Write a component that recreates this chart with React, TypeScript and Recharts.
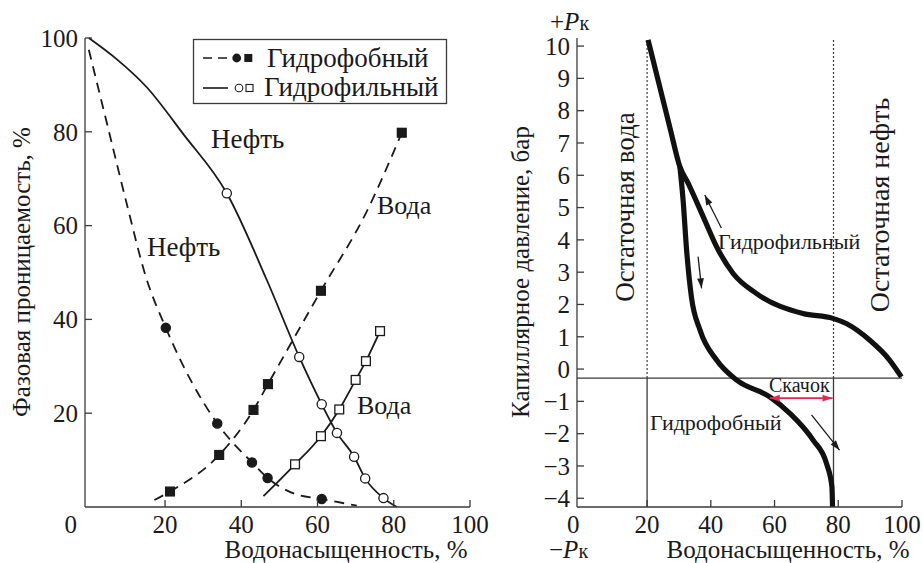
import { ComposedChart, Line, XAxis, YAxis, ReferenceLine } from "recharts";

const FONT = "'Liberation Serif', 'DejaVu Serif', serif";
const INK = "#1a1a1a";
const AXIS = "#3a3a3a";
const RED = "#e6264e";

// ---- left panel: phase permeability (%) vs water saturation (%)
// hydrophobic rock, oil (dashed line, filled circles)
const oilPhobX = [0, 5, 10, 15, 20.2, 33.7, 42.8, 46.9, 54, 61.1, 70.3];
const oilPhobY = [97.5, 81, 64.5, 49, 38.2, 17.8, 9.5, 6.2, 2.8, 1.7, 0.3];
const oilPhobMarkX = [20.2, 33.7, 42.8, 46.9, 61.1];
const oilPhobMarkY = [38.2, 17.8, 9.5, 6.2, 1.7];

// hydrophobic rock, water (dashed line, filled squares)
const watPhobX = [17.2, 21.3, 34.2, 43.2, 47.0, 60.9, 72.9, 82.1];
const watPhobY = [1.5, 3.3, 11.1, 20.7, 26.2, 46.1, 63, 79.8];
const watPhobMarkX = [21.3, 34.2, 43.2, 47.0, 60.9, 82.1];
const watPhobMarkY = [3.3, 11.1, 20.7, 26.2, 46.1, 79.8];

// hydrophilic rock, oil (solid line, hollow circles)
const oilPhilX = [0, 7.3, 15.2, 24.8, 36.2, 46.7, 55.2, 61.1, 65.1, 69.6, 72.5, 77.3, 80.8];
const oilPhilY = [100, 95.5, 89.5, 79.5, 66.9, 48.4, 32.0, 21.9, 15.8, 10.7, 6.1, 1.9, 0];
const oilPhilMarkX = [36.2, 55.2, 61.1, 65.1, 69.6, 72.5, 77.3];
const oilPhilMarkY = [66.9, 32.0, 21.9, 15.8, 10.7, 6.1, 1.9];

// hydrophilic rock, water (solid line, hollow squares)
const watPhilX = [45.8, 54.1, 60.9, 65.7, 70.0, 72.7, 76.4];
const watPhilY = [2.3, 9.1, 15.1, 20.8, 27.1, 31.1, 37.5];
const watPhilMarkX = [54.1, 60.9, 65.7, 70.0, 72.7, 76.4];
const watPhilMarkY = [9.1, 15.1, 20.8, 27.1, 31.1, 37.5];

const leftXTicks = [0, 20, 40, 60, 80, 100];
const leftYTicks = [20, 40, 60, 80, 100];

// ---- right panel: capillary pressure (bar) vs water saturation (%)
const philCapX = [20.3, 27.1, 30.3, 32.9, 37.6, 41.8, 47.0, 54.3, 68.9, 78.3, 82.5, 89.8, 96.1, 99.8];
const philCapY = [10.19, 7.5, 6.26, 5.75, 4.72, 3.79, 2.96, 2.34, 1.72, 1.57, 1.41, 0.9, 0.28, -0.24];
const phobCapX = [30.3, 31.3, 32.4, 33.9, 36.6, 41.8, 48.1, 58.5, 64.8, 72.1, 76.3, 78.0, 78.2];
const phobCapY = [6.26, 5.23, 3.68, 2.24, 1.21, 0.28, -0.34, -0.86, -1.37, -2.2, -2.92, -3.64, -4.27];

const rightXTicks = [0, 20, 40, 60, 80, 100];
const rightYTicks = [-4, -3, -2, -1, 0, 1, 2, 3, 4, 5, 6, 7, 8, 9, 10];
const baseLevel = -0.28;
const residualWater = 20;
const residualOil = 78.5;
const yMin = -4.27;
const yMax = 10.25;

const pts = (xs: number[], ys: number[]) => xs.map((x, i) => ({ x, y: ys[i] }));

function XTick({ x, y, payload, zeroDx }: any) {
  const v = payload.value as number;
  const axisY = y - 10;
  return (
    <g>
      {v !== 0 && (
        <line x1={x} x2={x} y1={axisY} y2={axisY - 7} stroke={AXIS} strokeWidth={1.3} />
      )}
      <text
        x={v === 0 ? x + zeroDx : x}
        y={axisY + 26}
        textAnchor="middle"
        style={{ fontFamily: FONT, fontSize: 25 }}
        fill={INK}
      >
        {v}
      </text>
    </g>
  );
}

function YTick({ x, y, payload }: any) {
  const v = payload.value as number;
  const axisX = x + 10;
  return (
    <g>
      <line x1={axisX} x2={axisX + 7} y1={y} y2={y} stroke={AXIS} strokeWidth={1.3} />
      <text
        x={axisX - 7}
        y={y}
        dy="0.35em"
        textAnchor="end"
        style={{ fontFamily: FONT, fontSize: 25 }}
        fill={INK}
      >
        {v < 0 ? `\u2212${-v}` : v}
      </text>
    </g>
  );
}

const markDot = (kind: "circle" | "square", filled: boolean) => (p: any) => {
  const { cx, cy, index } = p;
  if (cx == null || cy == null) return <g key={index} />;
  const fill = filled ? INK : "#fff";
  if (kind === "circle") {
    return (
      <circle key={index} cx={cx} cy={cy} r={4.6} fill={fill} stroke={INK} strokeWidth={1.3} />
    );
  }
  return (
    <rect
      key={index}
      x={cx - 4.4}
      y={cy - 4.4}
      width={8.8}
      height={8.8}
      fill={fill}
      stroke={INK}
      strokeWidth={1.3}
    />
  );
};

function ArrowShape({ x1, y1, x2, y2, stroke, both, width }: any) {
  const ang = Math.atan2(y2 - y1, x2 - x1);
  const len = 10;
  const hw = 3.4;
  const head = (tx: number, ty: number, a: number) => {
    const bx = tx - len * Math.cos(a);
    const by = ty - len * Math.sin(a);
    const nx = -Math.sin(a) * hw;
    const ny = Math.cos(a) * hw;
    return `${tx},${ty} ${bx + nx},${by + ny} ${bx - nx},${by - ny}`;
  };
  return (
    <g>
      <line x1={x1} y1={y1} x2={x2} y2={y2} stroke={stroke} strokeWidth={width ?? 1.3} />
      <polygon points={head(x2, y2, ang)} fill={stroke} />
      {both && <polygon points={head(x1, y1, ang + Math.PI)} fill={stroke} />}
    </g>
  );
}

function LeftPanel() {
  return (
    <ComposedChart
      width={500}
      height={563}
      margin={{ top: 38, right: 30, bottom: 0, left: 0 }}
    >
      <XAxis
        type="number"
        dataKey="x"
        domain={[-1, 100]}
        ticks={leftXTicks}
        interval={0}
        height={56}
        tickSize={0}
        tickMargin={10}
        tickLine={false}
        axisLine={{ stroke: AXIS, strokeWidth: 1.3 }}
        tick={(p: any) => <XTick {...p} zeroDx={-18} />}
      />
      <YAxis
        type="number"
        dataKey="y"
        domain={[0, 100]}
        ticks={leftYTicks}
        interval={0}
        width={85}
        tickSize={0}
        tickMargin={10}
        tickLine={false}
        axisLine={{ stroke: AXIS, strokeWidth: 1.3 }}
        tick={(p: any) => <YTick {...p} />}
      />
      <Line data={pts(oilPhobX, oilPhobY)} dataKey="y" type="monotone" stroke={INK} strokeWidth={1.8} strokeDasharray="10 7" dot={false} activeDot={false} isAnimationActive={false} />
      <Line data={pts(watPhobX, watPhobY)} dataKey="y" type="monotone" stroke={INK} strokeWidth={1.8} strokeDasharray="10 7" dot={false} activeDot={false} isAnimationActive={false} />
      <Line data={pts(oilPhilX, oilPhilY)} dataKey="y" type="monotone" stroke={INK} strokeWidth={1.8} dot={false} activeDot={false} isAnimationActive={false} />
      <Line data={pts(watPhilX, watPhilY)} dataKey="y" type="monotone" stroke={INK} strokeWidth={1.8} dot={false} activeDot={false} isAnimationActive={false} />
      <Line data={pts(oilPhobMarkX, oilPhobMarkY)} dataKey="y" stroke="none" dot={markDot("circle", true)} activeDot={false} isAnimationActive={false} />
      <Line data={pts(watPhobMarkX, watPhobMarkY)} dataKey="y" stroke="none" dot={markDot("square", true)} activeDot={false} isAnimationActive={false} />
      <Line data={pts(oilPhilMarkX, oilPhilMarkY)} dataKey="y" stroke="none" dot={markDot("circle", false)} activeDot={false} isAnimationActive={false} />
      <Line data={pts(watPhilMarkX, watPhilMarkY)} dataKey="y" stroke="none" dot={markDot("square", false)} activeDot={false} isAnimationActive={false} />
    </ComposedChart>
  );
}

function RightPanel() {
  return (
    <ComposedChart
      width={453}
      height={563}
      margin={{ top: 38, right: 21, bottom: 0, left: 0 }}
    >
      <XAxis
        type="number"
        dataKey="x"
        domain={[-2, 100]}
        ticks={rightXTicks}
        interval={0}
        height={56}
        tickSize={0}
        tickMargin={10}
        tickLine={false}
        axisLine={{ stroke: AXIS, strokeWidth: 1.3 }}
        tick={(p: any) => <XTick {...p} zeroDx={-10} />}
      />
      <YAxis
        type="number"
        dataKey="y"
        domain={[yMin, yMax]}
        ticks={rightYTicks}
        interval={0}
        width={107}
        tickSize={0}
        tickMargin={10}
        tickLine={false}
        axisLine={{ stroke: AXIS, strokeWidth: 1.3 }}
        tick={(p: any) => <YTick {...p} />}
      />
      <ReferenceLine y={baseLevel} stroke={AXIS} strokeWidth={1.3} />
      <ReferenceLine
        segment={[{ x: residualWater, y: baseLevel }, { x: residualWater, y: yMax }]}
        stroke={AXIS}
        strokeWidth={1.2}
        strokeDasharray="2 2"
        ifOverflow="visible"
      />
      <ReferenceLine
        segment={[{ x: residualWater, y: yMin }, { x: residualWater, y: baseLevel }]}
        stroke={AXIS}
        strokeWidth={1.3}
        ifOverflow="visible"
      />
      <ReferenceLine
        segment={[{ x: residualOil, y: baseLevel }, { x: residualOil, y: yMax }]}
        stroke={AXIS}
        strokeWidth={1.2}
        strokeDasharray="2 2"
        ifOverflow="visible"
      />
      <ReferenceLine
        segment={[{ x: residualOil, y: yMin }, { x: residualOil, y: baseLevel }]}
        stroke={AXIS}
        strokeWidth={1.3}
        ifOverflow="visible"
      />
      <Line data={pts(philCapX, philCapY)} dataKey="y" type="monotone" stroke="#111" strokeWidth={5.2} dot={false} activeDot={false} isAnimationActive={false} />
      <Line data={pts(phobCapX, phobCapY)} dataKey="y" type="monotone" stroke="#111" strokeWidth={5.2} dot={false} activeDot={false} isAnimationActive={false} />
      {/* direction arrows */}
      <ReferenceLine
        segment={[{ x: 43.3, y: 4.37 }, { x: 38.1, y: 5.39 }]}
        ifOverflow="visible"
        shape={(p: any) => <ArrowShape {...p} stroke={INK} />}
      />
      <ReferenceLine
        segment={[{ x: 36.0, y: 3.48 }, { x: 37.1, y: 2.5 }]}
        ifOverflow="visible"
        shape={(p: any) => <ArrowShape {...p} stroke={INK} />}
      />
      <ReferenceLine
        segment={[{ x: 71.6, y: -1.42 }, { x: 80.4, y: -2.51 }]}
        ifOverflow="visible"
        shape={(p: any) => <ArrowShape {...p} stroke={INK} />}
      />
      <ReferenceLine
        segment={[{ x: 58.5, y: -0.9 }, { x: 78.2, y: -0.9 }]}
        ifOverflow="visible"
        shape={(p: any) => <ArrowShape {...p} stroke={RED} both width={1.6} />}
      />
    </ComposedChart>
  );
}

function T({ x, y, size = 25, rotate, anchor, children }: any) {
  return (
    <text
      x={x}
      y={y}
      textAnchor={anchor ?? (rotate ? "middle" : "start")}
      transform={rotate ? `rotate(-90 ${x} ${y})` : undefined}
      style={{ fontFamily: FONT, fontSize: size }}
      fill={INK}
    >
      {children}
    </text>
  );
}

function Overlay() {
  return (
    <svg
      width={923}
      height={563}
      style={{ position: "absolute", left: 0, top: 0, pointerEvents: "none" }}
    >
      {/* legend */}
      <rect x={193.5} y={39.5} width={253} height={64} fill="#fff" stroke={AXIS} strokeWidth={1.3} />
      <line x1={203} x2={230} y1={58} y2={58} stroke={INK} strokeWidth={1.6} strokeDasharray="9 6" />
      <circle cx={236.7} cy={58} r={4.4} fill={INK} />
      <rect x={244.3} y={54} width={8} height={8} fill={INK} />
      <T x={267} y={67} size={27}>Гидрофобный</T>
      <line x1={203} x2={228} y1={88} y2={88} stroke={INK} strokeWidth={1.6} />
      <circle cx={239} cy={88} r={3.8} fill="#fff" stroke={INK} strokeWidth={1.1} />
      <rect x={246} y={84.5} width={7} height={7} fill="#fff" stroke={INK} strokeWidth={1.1} />
      <T x={264} y={96} size={27}>Гидрофильный</T>

      {/* left panel labels */}
      <T x={211} y={148} size={27}>Нефть</T>
      <T x={147} y={256} size={27}>Нефть</T>
      <T x={377} y={214} size={26}>Вода</T>
      <T x={357} y={414} size={26}>Вода</T>
      <T x={346} y={558} anchor="middle">Водонасыщенность, %</T>
      <T x={30} y={272} rotate>Фазовая проницаемость, %</T>

      {/* right panel labels */}
      <text x={550} y={30} style={{ fontFamily: FONT, fontSize: 25 }} fill={INK}>
        +<tspan fontStyle="italic">P</tspan>
        <tspan style={{ fontSize: 20 }}>к</tspan>
      </text>
      <text x={549} y={558} style={{ fontFamily: FONT, fontSize: 25 }} fill={INK}>
        −<tspan fontStyle="italic">P</tspan>
        <tspan style={{ fontSize: 20 }}>к</tspan>
      </text>
      <T x={788} y={558} anchor="middle">Водонасыщенность, %</T>
      <T x={529} y={272} rotate>Капиллярное давление, бар</T>
      <T x={634} y={207} rotate size={27}>Остаточная вода</T>
      <T x={889} y={205} rotate size={28}>Остаточная нефть</T>
      <T x={718} y={249} size={22}>Гидрофильный</T>
      <T x={650} y={430} size={22}>Гидрофобный</T>
      <T x={769} y={392} size={20}>Скачок</T>
    </svg>
  );
}

export default function App() {
  return (
    <div
      style={{
        position: "absolute",
        left: 0,
        top: 0,
        width: 923,
        height: 563,
        background: "#fff",
        overflow: "hidden",
      }}
    >
      <div style={{ position: "absolute", left: 0, top: 0 }}>
        <LeftPanel />
      </div>
      <div style={{ position: "absolute", left: 470, top: 0 }}>
        <RightPanel />
      </div>
      <Overlay />
    </div>
  );
}
